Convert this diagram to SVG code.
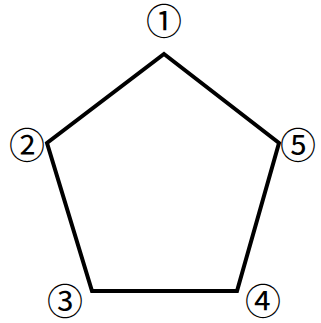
<svg xmlns="http://www.w3.org/2000/svg" width="321" height="323" viewBox="0 0 321 323">
<style>
.lbl{font-family:"Noto Sans CJK JP","DejaVu Sans",sans-serif;font-size:36px;fill:#000;text-anchor:middle;dominant-baseline:central}
.edge{fill:none;stroke:#000;stroke-width:4;stroke-linejoin:miter}
</style>
<rect width="321" height="323" fill="#fff"/>
<g id="connectors">
<polygon class="edge" points="164,54 279,143 237,291 92,291 47,143"/>
</g>
<g id="n1"><text class="lbl" x="164" y="19">①</text></g>
<g id="n2"><text class="lbl" x="27" y="143">②</text></g>
<g id="n3"><text class="lbl" x="65" y="299">③</text></g>
<g id="n4"><text class="lbl" x="263" y="299">④</text></g>
<g id="n5"><text class="lbl" x="298" y="143">⑤</text></g>
</svg>
